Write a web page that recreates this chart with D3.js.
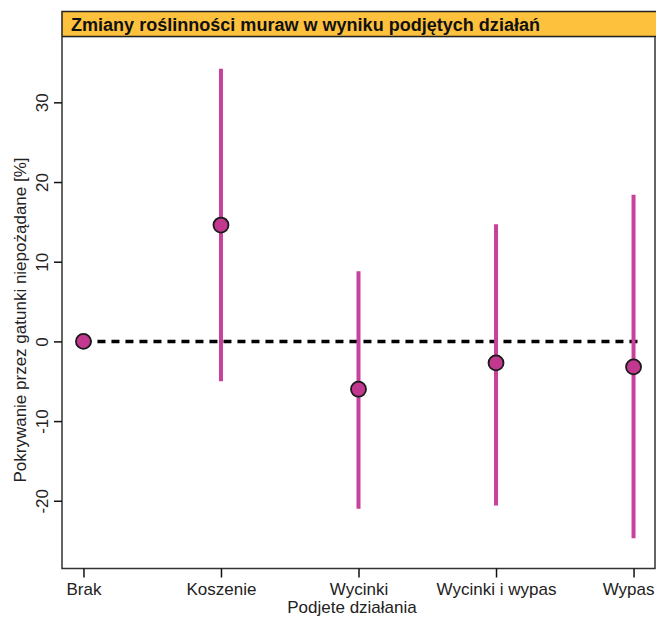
<!DOCTYPE html>
<html><head><meta charset="utf-8">
<script src="https://cdn.jsdelivr.net/npm/d3@7"></script>
<style>html,body{margin:0;padding:0;background:#fff;}svg{display:block;}</style>
</head><body><svg id="c" width="656" height="619"></svg>
<script>
const categories = ["Brak","Koszenie","Wycinki","Wycinki i wypas","Wypas"];
const estimates  = [0, 14.6, -6.0, -2.7, -3.2];
const lowerCI    = [0, -5.0, -21.0, -20.6, -24.7];
const upperCI    = [0, 34.2, 8.8, 14.7, 18.4];
const yTicks     = [-20, -10, 0, 10, 20, 30];
const titleText  = "Zmiany roślinności muraw w wyniku podjętych działań";
const xLabel     = "Podjete działania";
const yLabel     = "Pokrywanie przez gatunki niepożądane [%]";

const svg = d3.select("#c");
const L = 62, R = 655, T = 37, B = 568.5;
const font = "'Liberation Sans', Arial, sans-serif";

const x = d3.scalePoint().domain(categories).range([L, R]).padding(0.156);
const y = d3.scaleLinear().domain([-28.5, 38.2]).range([B, T]);

// title bar
svg.append("rect").attr("x", L).attr("y", 11.5).attr("width", R - L + 2).attr("height", 25)
  .attr("fill", "#FDC13E").attr("stroke", "#222").attr("stroke-width", 1.5);
svg.append("line").attr("x1", L).attr("x2", R+2).attr("y1", 37.5).attr("y2", 37.5)
  .attr("stroke", "#bbb").attr("stroke-width", 1);
svg.append("text").attr("x", 71).attr("y", 30.5).text(titleText)
  .attr("font-family", font).attr("font-weight", "bold").attr("font-size", 18)
  .attr("textLength", 469).attr("lengthAdjust", "spacingAndGlyphs").attr("fill", "#111");

// panel border (left, bottom, right)
svg.append("path").attr("d", `M${L},${T} V${B} H${R} V${T}`)
  .attr("fill", "none").attr("stroke", "#333").attr("stroke-width", 1.5);

// y axis
const ya = svg.append("g").attr("transform", `translate(${L},0)`)
  .call(d3.axisLeft(y).tickValues(yTicks).tickSize(8).tickFormat(d => String(d)));
ya.select(".domain").remove();
ya.selectAll(".tick line").attr("stroke", "#111").attr("stroke-width", 1.5);
ya.selectAll(".tick text").attr("font-family", font).attr("font-size", 17).attr("fill", "#222")
  .attr("text-anchor", "middle").attr("x", 0).attr("y", 0).attr("dy", "0.35em")
  .attr("transform", "translate(-20,0) rotate(-90)");

// x axis
const xa = svg.append("g").attr("transform", `translate(0,${B})`)
  .call(d3.axisBottom(x).tickSize(9));
xa.select(".domain").remove();
xa.selectAll(".tick line").attr("stroke", "#111").attr("stroke-width", 1.5);
xa.selectAll(".tick text").attr("font-family", font).attr("font-size", 17).attr("fill", "#222").attr("y", 14).attr("dy", "0.71em");
// keep the last label inside the frame, as in the reference
xa.selectAll(".tick text").filter(d => d === categories[categories.length - 1])
  .attr("text-anchor", "end").attr("x", d => 654 - x(d));

// axis labels
svg.append("text").attr("x", 352).attr("y", 613).attr("text-anchor", "middle")
  .text(xLabel).attr("font-family", font).attr("font-size", 17).attr("fill", "#222");
svg.append("text").attr("transform", `translate(26,320) rotate(-90)`).attr("text-anchor", "middle")
  .text(yLabel).attr("font-family", font).attr("font-size", 17).attr("fill", "#222");

// zero line
svg.append("line").attr("x1", x("Brak")).attr("x2", R - 14).attr("y1", y(0)).attr("y2", y(0))
  .attr("stroke", "#000").attr("stroke-width", 3.5).attr("stroke-dasharray", "8,6");

const data = categories.map((c, i) => ({c, e: estimates[i], lo: lowerCI[i], hi: upperCI[i]}));
svg.selectAll("line.ci").data(data.filter(d => d.hi !== d.lo)).join("line").attr("class", "ci")
  .attr("x1", d => x(d.c)).attr("x2", d => x(d.c)).attr("y1", d => y(d.lo)).attr("y2", d => y(d.hi))
  .attr("stroke", "#C8419B").attr("stroke-width", 4);
svg.selectAll("circle.pt").data(data).join("circle").attr("class", "pt")
  .attr("cx", d => x(d.c)).attr("cy", d => y(d.e)).attr("r", 7.5)
  .attr("fill", "#C2388F").attr("stroke", "#1a1a1a").attr("stroke-width", 1.8);
</script>
</body></html>
